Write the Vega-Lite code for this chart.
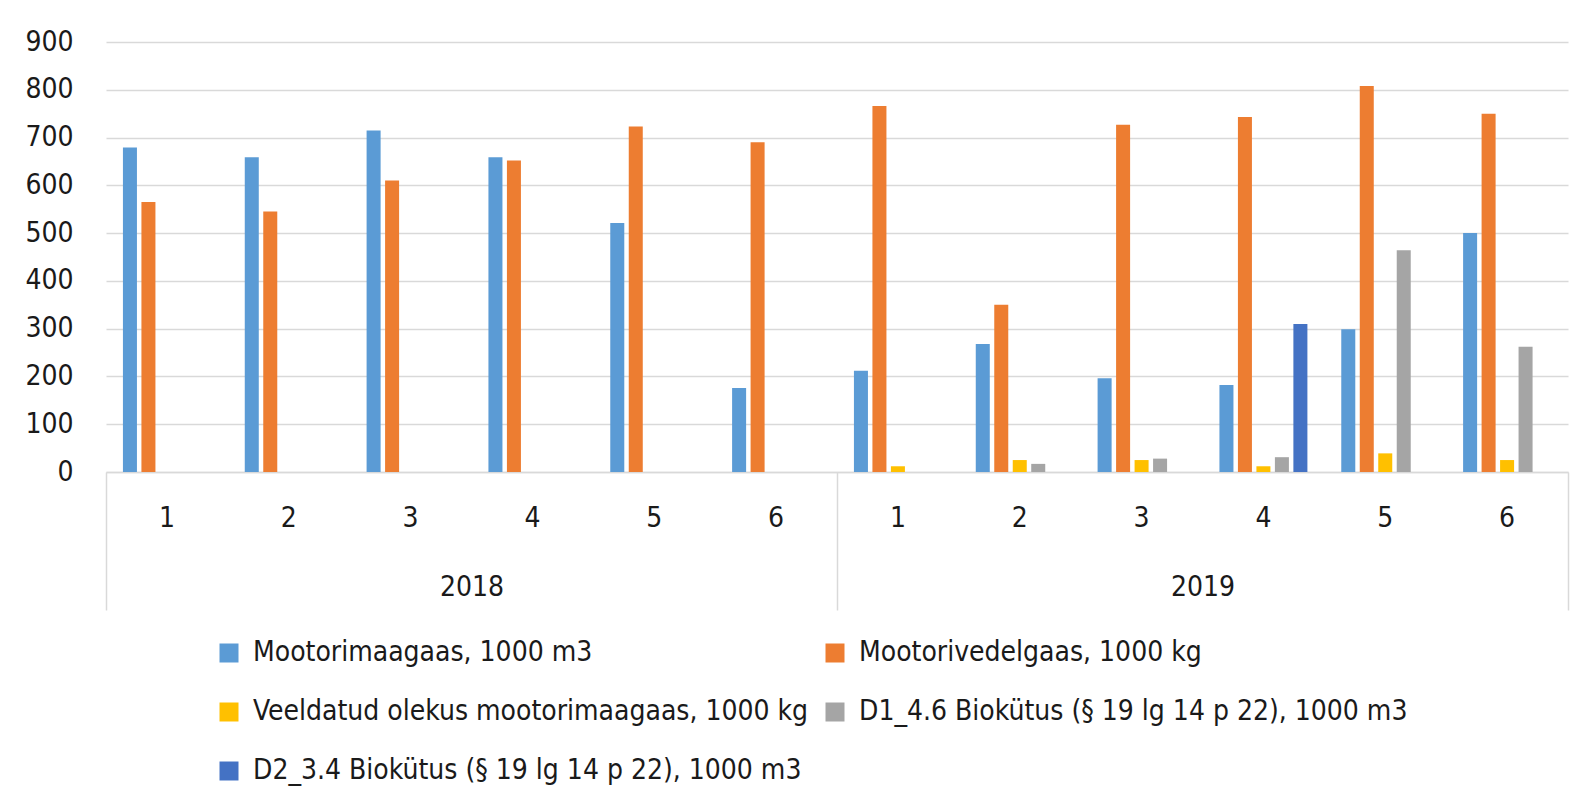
{
  "$schema": "https://vega.github.io/schema/vega-lite/v6.json",
  "width": 1462,
  "height": 430,
  "autosize": {"type": "none"},
  "padding": {"left": 106, "top": 42, "right": 16, "bottom": 338},
  "background": "white",
  "config": {
    "font": "DejaVu Sans Condensed",
    "view": {"stroke": null},
    "axis": {"labelColor": "#1a1a1a", "labelFont": "DejaVu Sans Condensed", "labelFontSize": 28},
    "legend": {"labelColor": "#1a1a1a", "labelFont": "DejaVu Sans Condensed"}
  },
  "layer": [
    {
      "data": {
        "values": [
          {"key": "2018-1", "series": "Mootorimaagaas, 1000 m3", "value": 679},
          {"key": "2018-1", "series": "Mootorivedelgaas, 1000 kg", "value": 565},
          {"key": "2018-2", "series": "Mootorimaagaas, 1000 m3", "value": 659},
          {"key": "2018-2", "series": "Mootorivedelgaas, 1000 kg", "value": 545},
          {"key": "2018-3", "series": "Mootorimaagaas, 1000 m3", "value": 715},
          {"key": "2018-3", "series": "Mootorivedelgaas, 1000 kg", "value": 610},
          {"key": "2018-4", "series": "Mootorimaagaas, 1000 m3", "value": 659},
          {"key": "2018-4", "series": "Mootorivedelgaas, 1000 kg", "value": 652},
          {"key": "2018-5", "series": "Mootorimaagaas, 1000 m3", "value": 521},
          {"key": "2018-5", "series": "Mootorivedelgaas, 1000 kg", "value": 723},
          {"key": "2018-6", "series": "Mootorimaagaas, 1000 m3", "value": 176},
          {"key": "2018-6", "series": "Mootorivedelgaas, 1000 kg", "value": 690},
          {"key": "2019-1", "series": "Mootorimaagaas, 1000 m3", "value": 212},
          {"key": "2019-1", "series": "Mootorivedelgaas, 1000 kg", "value": 766},
          {"key": "2019-1", "series": "Veeldatud olekus mootorimaagaas, 1000 kg", "value": 12},
          {"key": "2019-2", "series": "Mootorimaagaas, 1000 m3", "value": 268},
          {"key": "2019-2", "series": "Mootorivedelgaas, 1000 kg", "value": 350},
          {"key": "2019-2", "series": "Veeldatud olekus mootorimaagaas, 1000 kg", "value": 25},
          {"key": "2019-2", "series": "D1_4.6 Biokütus (§ 19 lg 14 p 22), 1000 m3", "value": 17},
          {"key": "2019-3", "series": "Mootorimaagaas, 1000 m3", "value": 196},
          {"key": "2019-3", "series": "Mootorivedelgaas, 1000 kg", "value": 727},
          {"key": "2019-3", "series": "Veeldatud olekus mootorimaagaas, 1000 kg", "value": 25},
          {"key": "2019-3", "series": "D1_4.6 Biokütus (§ 19 lg 14 p 22), 1000 m3", "value": 28},
          {"key": "2019-4", "series": "Mootorimaagaas, 1000 m3", "value": 182},
          {"key": "2019-4", "series": "Mootorivedelgaas, 1000 kg", "value": 743},
          {"key": "2019-4", "series": "Veeldatud olekus mootorimaagaas, 1000 kg", "value": 12},
          {"key": "2019-4", "series": "D1_4.6 Biokütus (§ 19 lg 14 p 22), 1000 m3", "value": 31},
          {"key": "2019-4", "series": "D2_3.4 Biokütus (§ 19 lg 14 p 22), 1000 m3", "value": 310},
          {"key": "2019-5", "series": "Mootorimaagaas, 1000 m3", "value": 299},
          {"key": "2019-5", "series": "Mootorivedelgaas, 1000 kg", "value": 808},
          {"key": "2019-5", "series": "Veeldatud olekus mootorimaagaas, 1000 kg", "value": 39},
          {"key": "2019-5", "series": "D1_4.6 Biokütus (§ 19 lg 14 p 22), 1000 m3", "value": 464},
          {"key": "2019-6", "series": "Mootorimaagaas, 1000 m3", "value": 500},
          {"key": "2019-6", "series": "Mootorivedelgaas, 1000 kg", "value": 750},
          {"key": "2019-6", "series": "Veeldatud olekus mootorimaagaas, 1000 kg", "value": 25},
          {"key": "2019-6", "series": "D1_4.6 Biokütus (§ 19 lg 14 p 22), 1000 m3", "value": 262}
        ]
      },
      "mark": {"type": "bar"},
      "encoding": {
        "x": {
          "field": "key",
          "type": "nominal",
          "scale": {"paddingInner": 0.278, "paddingOuter": 0.139},
          "axis": {
            "orient": "bottom",
            "title": null,
            "labelExpr": "split(datum.value, '-')[1]",
            "labelAngle": 0,
            "ticks": false,
            "tickSize": 0,
            "labelPadding": 32,
            "domainColor": "#d9d9d9",
            "domainWidth": 1.5,
            "grid": false
          }
        },
        "xOffset": {
          "field": "series",
          "type": "nominal",
          "scale": {
            "domain": [
              "Mootorimaagaas, 1000 m3",
              "Mootorivedelgaas, 1000 kg",
              "Veeldatud olekus mootorimaagaas, 1000 kg",
              "D1_4.6 Biokütus (§ 19 lg 14 p 22), 1000 m3",
              "D2_3.4 Biokütus (§ 19 lg 14 p 22), 1000 m3"
            ],
            "paddingInner": 0.242,
            "paddingOuter": 0
          }
        },
        "y": {
          "field": "value",
          "type": "quantitative",
          "scale": {"domain": [0, 900], "nice": false},
          "axis": {
            "title": null,
            "values": [0, 100, 200, 300, 400, 500, 600, 700, 800, 900],
            "domain": false,
            "ticks": false,
            "labelPadding": 33,
            "gridColor": "#d9d9d9",
            "gridWidth": 1.5
          }
        },
        "color": {
          "field": "series",
          "type": "nominal",
          "scale": {
            "domain": [
              "Mootorimaagaas, 1000 m3",
              "Mootorivedelgaas, 1000 kg",
              "Veeldatud olekus mootorimaagaas, 1000 kg",
              "D1_4.6 Biokütus (§ 19 lg 14 p 22), 1000 m3",
              "D2_3.4 Biokütus (§ 19 lg 14 p 22), 1000 m3"
            ],
            "range": ["#5B9BD5", "#ED7D31", "#FFC000", "#A5A5A5", "#4472C4"]
          },
          "legend": {
            "orient": "none",
            "direction": "horizontal",
            "legendX": 109,
            "legendY": 597,
            "title": null,
            "columns": 2,
            "symbolType": "square",
            "symbolSize": 361,
            "symbolStrokeWidth": 0,
            "symbolOpacity": 1,
            "labelFontSize": 28,
            "labelOffset": 10,
            "rowPadding": 31,
            "columnPadding": 12,
            "labelLimit": 0
          }
        }
      }
    },
    {
      "data": {"values": [{"year": "2018"}, {"year": "2019"}]},
      "mark": {"type": "text", "text": "", "opacity": 0},
      "encoding": {
        "x": {
          "field": "year",
          "type": "nominal",
          "scale": {"paddingInner": 0, "paddingOuter": 0},
          "axis": {
            "orient": "bottom",
            "title": null,
            "labelAngle": 0,
            "domain": false,
            "tickBand": "extent",
            "tickSize": 138,
            "tickColor": "#d9d9d9",
            "tickWidth": 1.5,
            "labelPadding": -37,
            "grid": false
          }
        },
        "y": {"datum": 0, "type": "quantitative"}
      }
    }
  ],
  "resolve": {"scale": {"x": "independent"}}
}
